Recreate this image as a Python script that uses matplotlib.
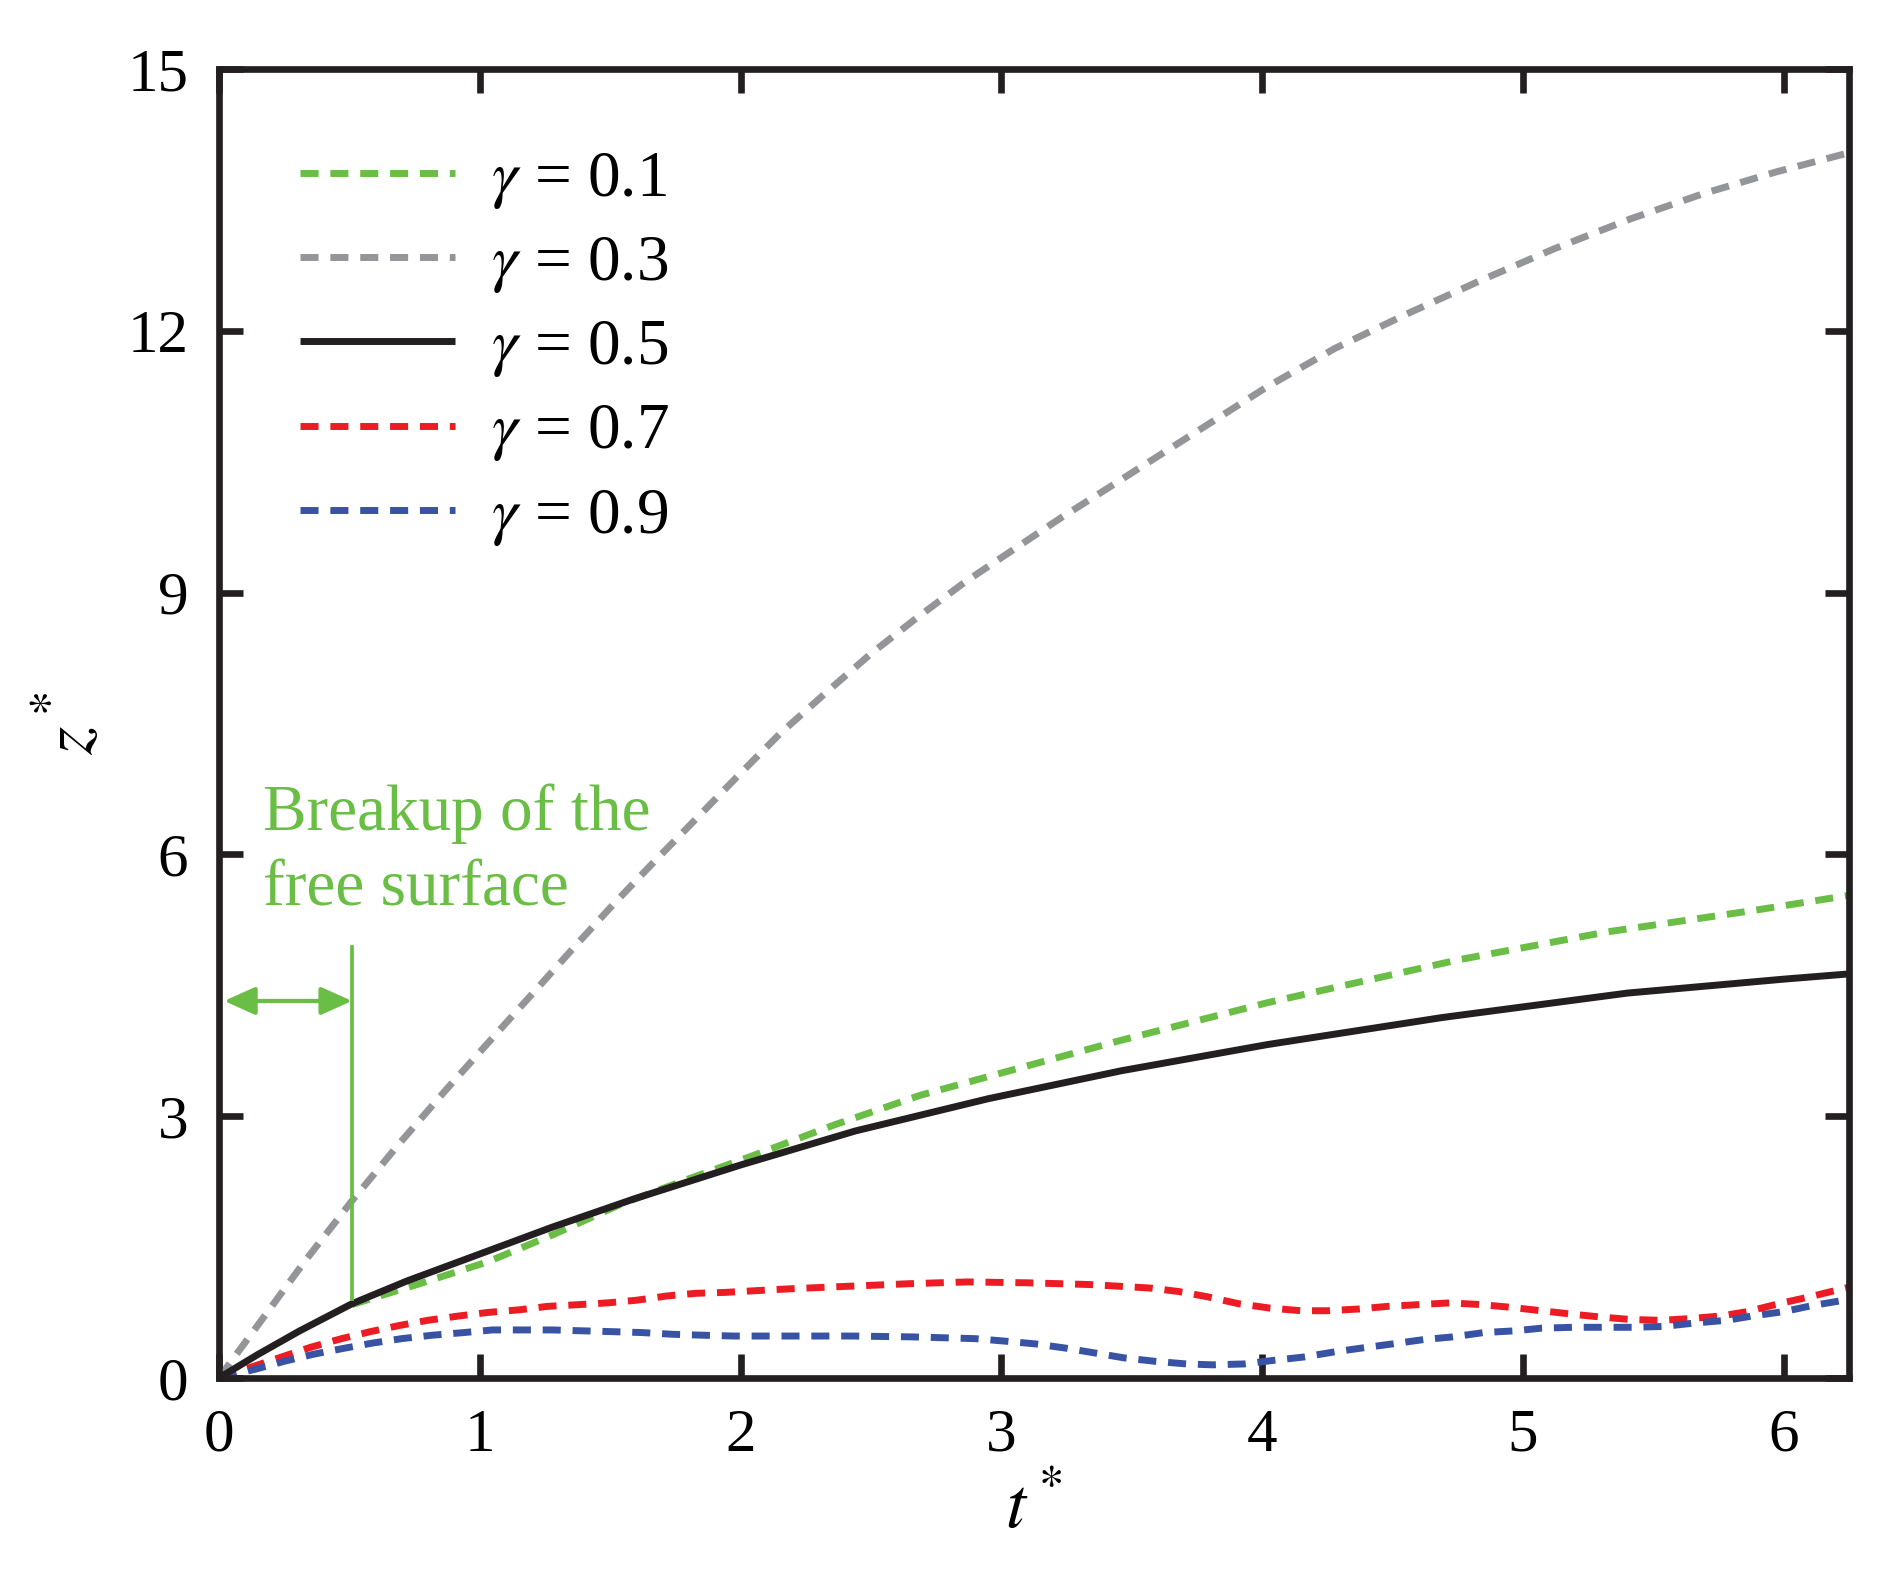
import matplotlib.pyplot as plt

plt.rcParams['font.family'] = ['Liberation Serif', 'DejaVu Serif']
plt.rcParams['mathtext.fontset'] = 'stix'

# gamma = 0.1 (starts after the free surface breaks up)
t_01 = [0.51, 0.77, 1.03, 1.28, 1.54, 1.8, 2.05, 2.36, 2.69, 3.08, 3.46, 4.02, 4.75, 5.32, 5.89, 6.25]
z_01 = [0.84, 1.08, 1.33, 1.64, 1.99, 2.28, 2.55, 2.9, 3.24, 3.56, 3.87, 4.3, 4.79, 5.11, 5.36, 5.53]

# gamma = 0.3
t_03 = [0, 0.18, 0.33, 0.51, 0.69, 0.87, 1.05, 1.21, 1.36, 1.51, 1.67, 1.85, 2.0, 2.15, 2.33,
        2.5, 2.68, 2.86, 3.05, 3.23, 3.41, 3.62, 3.82, 4.02, 4.28, 4.56, 4.84, 5.12, 5.41,
        5.69, 5.97, 6.25]
z_03 = [0, 0.73, 1.34, 2.03, 2.68, 3.3, 3.9, 4.43, 4.93, 5.42, 5.92, 6.47, 6.93, 7.38, 7.86,
        8.3, 8.72, 9.12, 9.5, 9.86, 10.2, 10.6, 10.98, 11.36, 11.8, 12.2, 12.58, 12.94, 13.28,
        13.57, 13.82, 14.04]

# gamma = 0.5
t_05 = [0, 0.15, 0.31, 0.51, 0.72, 1.0, 1.28, 1.59, 2.0, 2.44, 2.95, 3.46, 4.02, 4.69, 5.4, 6.0, 6.25]
z_05 = [0, 0.27, 0.54, 0.85, 1.11, 1.42, 1.73, 2.05, 2.44, 2.83, 3.2, 3.52, 3.82, 4.13, 4.41, 4.57, 4.63]

# gamma = 0.7
t_07 = [0, 0.13, 0.25, 0.35, 0.47, 0.58, 0.69, 0.8, 0.92, 1.03, 1.15, 1.26, 1.38, 1.49, 1.6,
        1.72, 1.83, 1.94, 2.06, 2.18, 2.41, 2.65, 2.87, 3.1, 3.34, 3.57, 3.68, 3.79, 3.91, 4.03,
        4.15, 4.25, 4.37, 4.48, 4.6, 4.72, 4.84, 4.95, 5.07, 5.19, 5.29, 5.41, 5.53, 5.64, 5.76,
        5.86, 5.98, 6.1, 6.25]
z_07 = [0, 0.13, 0.25, 0.35, 0.45, 0.53, 0.6, 0.66, 0.71, 0.75, 0.78, 0.82, 0.84, 0.86, 0.89,
        0.94, 0.97, 0.98, 1.0, 1.02, 1.05, 1.08, 1.1, 1.09, 1.07, 1.03, 0.99, 0.93, 0.85, 0.8,
        0.77, 0.77, 0.79, 0.82, 0.84, 0.86, 0.84, 0.81, 0.77, 0.73, 0.7, 0.67, 0.66, 0.68, 0.71,
        0.76, 0.85, 0.93, 1.04]

# gamma = 0.9
t_09 = [0, 0.14, 0.25, 0.36, 0.48, 0.59, 0.7, 0.82, 0.94, 1.05, 1.16, 1.28, 1.39, 1.51, 1.62,
        1.74, 1.85, 1.97, 2.09, 2.19, 2.43, 2.66, 2.78, 2.9, 3.02, 3.13, 3.25, 3.35, 3.47, 3.59,
        3.71, 3.81, 3.93, 4.04, 4.16, 4.28, 4.4, 4.5, 4.62, 4.73, 4.85, 4.97, 5.07, 5.19, 5.31,
        5.42, 5.54, 5.66, 5.78, 5.88, 6.0, 6.11, 6.25]
z_09 = [0, 0.1, 0.19, 0.27, 0.34, 0.4, 0.45, 0.49, 0.52, 0.55, 0.55, 0.55, 0.54, 0.53, 0.52,
        0.5, 0.49, 0.48, 0.48, 0.48, 0.48, 0.47, 0.46, 0.45, 0.42, 0.39, 0.34, 0.29, 0.23, 0.19,
        0.16, 0.15, 0.16, 0.2, 0.24, 0.3, 0.35, 0.39, 0.44, 0.47, 0.52, 0.54, 0.57, 0.58, 0.58,
        0.58, 0.59, 0.63, 0.66, 0.71, 0.76, 0.83, 0.9]

labels = [r'$\gamma$ = 0.1', r'$\gamma$ = 0.3', r'$\gamma$ = 0.5', r'$\gamma$ = 0.7', r'$\gamma$ = 0.9']
breakup_t = 0.51

green = '#6abd45'
gray = '#939598'
black = '#231f20'
red = '#ed1c24'
blue = '#3853a4'

lw = 5
dash = (2.6, 1.7)

fig = plt.figure(figsize=(18.99, 15.82), dpi=100)
ax = fig.add_axes([0.1153, 0.1290, 0.8584, 0.8274])

l03, = ax.plot(t_03, z_03, color=gray, lw=lw, dashes=dash)
l01, = ax.plot(t_01, z_01, color=green, lw=lw, dashes=dash)
l07, = ax.plot(t_07, z_07, color=red, lw=lw, dashes=dash)
l09, = ax.plot(t_09, z_09, color=blue, lw=lw, dashes=dash)
l05, = ax.plot(t_05, z_05, color=black, lw=lw, solid_capstyle='butt')

# breakup marker
ax.plot([breakup_t, breakup_t], [0.91, 4.94], color=green, lw=2.7)
ax.annotate('', xy=(0.02, 4.32), xytext=(breakup_t, 4.32),
            arrowprops=dict(arrowstyle='<|-|>,head_length=1.0,head_width=0.45',
                            mutation_scale=19, color=green, lw=3,
                            shrinkA=0, shrinkB=0))
ax.text(0.17, 6.28, 'Breakup of the', color=green, fontsize=47, va='baseline')
ax.text(0.17, 5.41, 'free surface', color=green, fontsize=47, va='baseline')

ax.legend([l01, l03, l05, l07, l09], labels, loc='upper left',
          bbox_to_anchor=(0.0497, 0.938), frameon=False, fontsize=47,
          handlelength=2.38, handletextpad=0.54, borderpad=0, borderaxespad=0,
          labelspacing=0.36)

ax.set_xlim(0, 6.25)
ax.set_ylim(0, 15)
ax.set_xticks([0, 1, 2, 3, 4, 5, 6])
ax.set_yticks([0, 3, 6, 9, 12, 15])
ax.tick_params(direction='in', length=17, width=4.8, top=True, right=True,
               labelsize=44, pad=22, color=black)
for s in ax.spines.values():
    s.set_linewidth(4.8)
    s.set_color(black)

ax.set_xlabel(r'$t^*$', fontsize=52, labelpad=8)
ax.set_ylabel(r'$z^*$', fontsize=52, labelpad=14)

fig.savefig('out.png', dpi=100)
